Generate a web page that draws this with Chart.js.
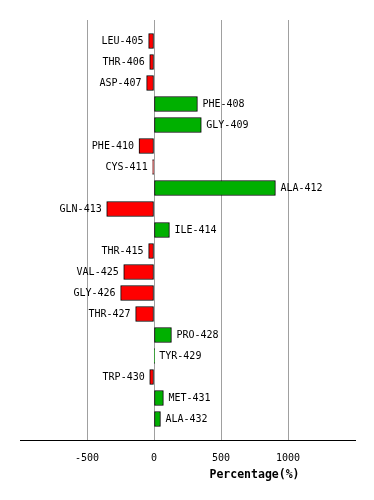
<!DOCTYPE html>
<html>
<head>
<meta charset="utf-8">
<script src="https://cdn.jsdelivr.net/npm/chart.js@4"></script>
<style>
  body { margin: 0; background: #fff; }
</style>
</head>
<body>
<canvas id="chart" width="374" height="500"></canvas>
<script>
// residues, top to bottom
const residues = ['LEU-405', 'THR-406', 'ASP-407', 'PHE-408', 'GLY-409', 'PHE-410', 'CYS-411',
  'ALA-412', 'GLN-413', 'ILE-414', 'THR-415', 'VAL-425', 'GLY-426', 'THR-427', 'PRO-428',
  'TYR-429', 'TRP-430', 'MET-431', 'ALA-432'];
// percentage change per residue
const percents = [-40, -32, -55, 324, 353, -112, -10, 906, -353, 115, -40, -226, -249, -137, 130,
  2, -32, 70, 48];
const xTicks = [-500, 0, 500, 1000];
const xTitle = 'Percentage(%)';

const FONT = '"DejaVu Sans Mono", monospace';

// empty slot above and below so the rows sit like the original
const rows = [''].concat(residues, ['']);
const vals = [null].concat(percents, [null]);

// residue names next to the bar ends + axis title
const barLabels = {
  id: 'barLabels',
  afterDatasetsDraw(chart) {
    const ctx = chart.ctx;
    const x = chart.scales.x;
    const y = chart.scales.y;
    ctx.save();
    ctx.font = '10px ' + FONT;
    ctx.fillStyle = '#000';
    ctx.textBaseline = 'middle';
    vals.forEach((v, i) => {
      if (v === null) return;
      const yp = y.getPixelForValue(i);
      const xp = x.getPixelForValue(v);
      if (v < 0) {
        ctx.textAlign = 'right';
        ctx.fillText(rows[i], xp - 5, yp);
      } else {
        ctx.textAlign = 'left';
        ctx.fillText(rows[i], xp + 5, yp);
      }
    });
    ctx.font = 'bold 11.5px ' + FONT;
    ctx.textAlign = 'center';
    ctx.fillText(xTitle, x.getPixelForValue(750), chart.chartArea.bottom + 35);
    ctx.restore();
  }
};

new Chart(document.getElementById('chart'), {
  type: 'bar',
  data: {
    labels: rows,
    datasets: [{
      data: vals,
      backgroundColor: vals.map(v => v < 0 ? '#ff0000' : '#00b000'),
      borderColor: '#000',
      borderWidth: 1,
      borderSkipped: false,
      barThickness: 15
    }]
  },
  plugins: [barLabels],
  options: {
    indexAxis: 'y',
    responsive: false,
    animation: false,
    layout: { padding: { top: 20, left: 20, right: 19, bottom: 24 } },
    plugins: { legend: { display: false }, tooltip: { enabled: false } },
    scales: {
      x: {
        min: -1000,
        max: 1500,
        afterBuildTicks: (s) => { s.ticks = [-1000].concat(xTicks, [1500]).map(v => ({ value: v })); },
        ticks: {
          autoSkip: false,
          maxRotation: 0,
          padding: 12,
          color: '#000',
          font: { family: FONT, size: 10 },
          callback: (v) => xTicks.includes(v) ? String(v) : ''
        },
        grid: {
          drawTicks: false,
          color: (c) => (c.tick && xTicks.includes(c.tick.value)) ? '#a0a0a0' : 'rgba(0,0,0,0)'
        },
        border: { display: true, color: '#000', width: 1 }
      },
      y: {
        display: false,
        offset: false
      }
    }
  }
});
</script>
</body>
</html>
